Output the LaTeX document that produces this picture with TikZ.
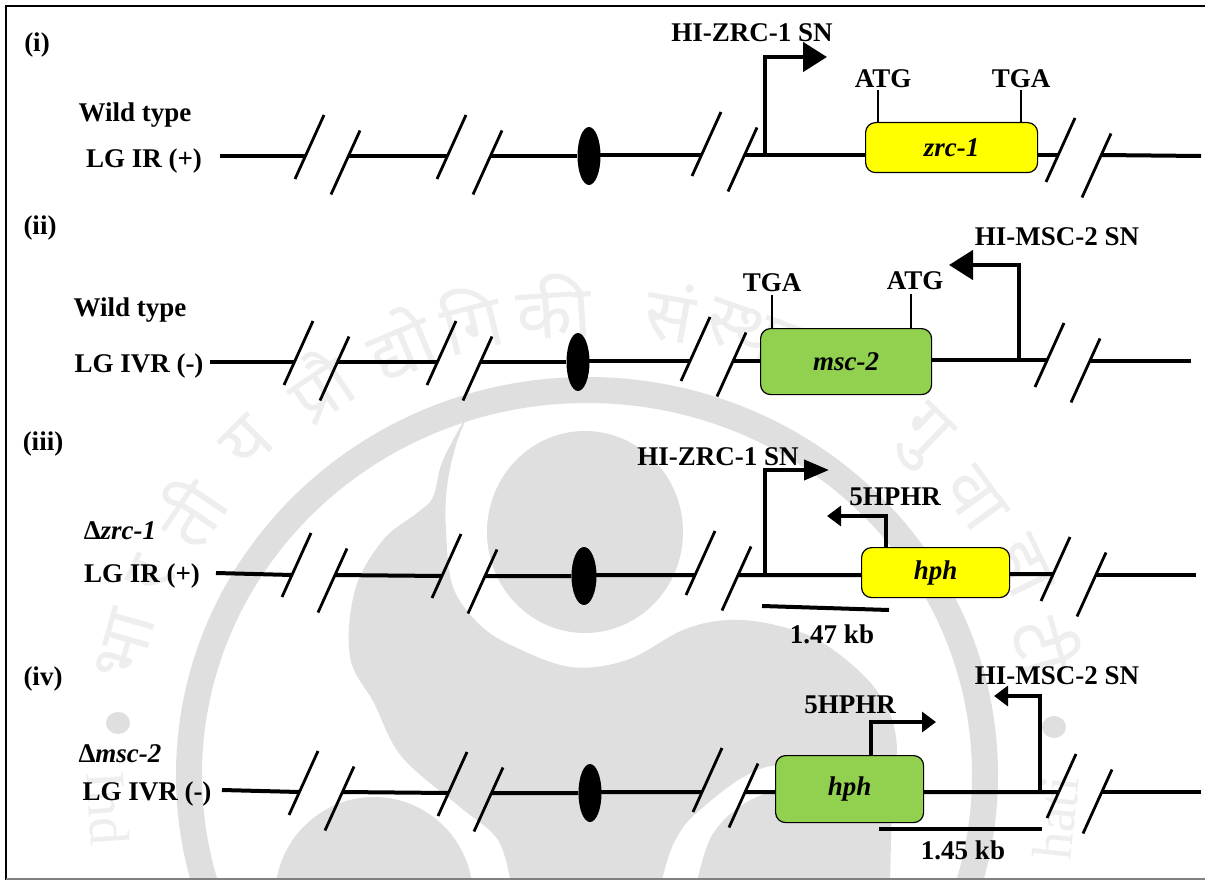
\documentclass[tikz,border=0pt]{standalone}
\usepackage{fontspec}
\setmainfont{Liberation Serif}
\newfontfamily\wmfont[Script=Devanagari]{Noto Sans}
\usepackage{xcolor}
\usepackage{tikz}
\usetikzlibrary{arrows.meta,shapes.geometric}
\definecolor{wmgray}{HTML}{DFDFDF}
\definecolor{wmtext}{HTML}{EEEEEE}
\definecolor{genegreen}{HTML}{92D050}
\definecolor{geneyellow}{HTML}{FFFF00}
\newcommand{\trackbreak}[4]{%
 \coordinate (#1a) at ({#2+0.453*(#3-#4)},#4);
 \coordinate (#1b) at ({#2+36+0.453*(#3+15.5-#4)},#4);
 \draw[tick] (#2,#3) -- ++(29,-64);
 \draw[tick] ({#2+36},{#3+15.5}) -- ++(29,-64);
}
\begin{document}
\begin{tikzpicture}[
 x=1pt,y=-1pt,
 lab/.style={font=\bfseries\fontsize{27}{28}\selectfont,inner sep=0pt},
 track/.style={line width=4pt},
 tick/.style={line width=2.8pt},
 stem/.style={line width=2.8pt},
 bar/.style={line width=4pt},
 gene/.style={draw=black,line width=1.2pt,rounded corners=10pt,anchor=north west,inner sep=0pt,font=\bfseries\itshape\fontsize{27}{28}\selectfont},
 oval/.style={ellipse,fill=black,inner sep=0pt,minimum width=23pt,minimum height=58pt},
 bigtss/.style={line width=4.6pt,-{Triangle[length=24pt,width=29pt]}},
 smalltss/.style={line width=3.2pt,-{Triangle[length=14pt,width=20pt]}},
 wmsyl/.style={font=\wmfont\fontsize{72}{72}\selectfont,text=wmtext,inner sep=0pt},
]
\useasboundingbox (0,0) rectangle (1205,880);
\fill[white] (0,0) rectangle (1205,880);
\begin{scope}
\clip (0,0) rectangle (1205,880);
\fill[wmgray,even odd rule] (587,775) ellipse [x radius=411,y radius=398] (587,775) ellipse [x radius=385,y radius=372];
\fill[wmgray] (585,532) ellipse [x radius=98,y radius=101];
\fill[wmgray] (374,897) ellipse [x radius=99,y radius=100];
\fill[wmgray] plot[smooth,tension=.6] coordinates {(470,410) (456,445) (447,487) (446,530) (453,587) (480,625) (515,647) (571,667) (627,660) (683,630) (728,620) (775,625) (823,643) (874,687) (896,737) (892,810) (890,885)}
 -- plot[smooth,tension=.6] coordinates {(511,885) (498,840) (460,807) (402,757) (374,703) (350,657) (355,590) (383,540) (417,513) (433,497) (443,460) (470,410)} -- cycle;
\fill[white] plot[smooth,tension=.6] coordinates {(661,885) (674,843) (700,810) (763,768) (840,765)}
 -- plot[smooth,tension=.6] coordinates {(840,765) (790,785) (745,803) (712,835) (696,885)} -- cycle;
\fill[wmgray] (118,723) ellipse [x radius=12,y radius=11];
\fill[wmgray] (1054,727) ellipse [x radius=12,y radius=11];
\foreach \syl/\ang in {भा/164,र/155,ती/146,य/135,प्रौ/124,द्यो/113,गि/104,की/94,सं/80,स्था/70,न/60,गु/46,वा/36,हा/26,टी/16}
 \node[wmsyl,rotate=\ang-90] (wm\ang) at ({587+480*cos(\ang)},{775-470*sin(\ang)}) {\syl};
\node[wmsyl,font=\fontsize{56}{56}\selectfont,rotate=-86] (wmleft) at (108,808) {Ind};
\node[wmsyl,font=\fontsize{56}{56}\selectfont,rotate=84] (wmright) at (1056,818) {hati};
\end{scope}
\draw[line width=2pt] (1205,6) -- (6,6) -- (6,880);
\draw[line width=2pt,gray] (6,879) -- (1205,879);

% (i)
\node[lab] (num1) at (37,45) {(i)};
\node[lab] (type1) at (135,115) {Wild type};
\node[lab] (lg1) at (144,161) {LG IR (+)};
\coordinate (s1) at (220,156);
\coordinate (e1) at (1201,156);
\trackbreak{p1}{295}{179}{156}
\trackbreak{q1}{437}{179}{156}
\trackbreak{r1}{692}{176}{155}
\trackbreak{t1}{1046}{182}{155}
\node[oval] (cen1) at (589,156) {};
\node[gene,fill=geneyellow,minimum width=172pt,minimum height=50pt] (zrc) at (865,122) {zrc-1};
\draw[track] (s1) -- (p1a) (p1b) -- (q1a) (q1b) -- (cen1) (cen1 |- r1a) -- (r1a) (r1b) -- (r1b -| zrc.west) (zrc.east |- t1a) -- (t1a);
\draw[track] (t1b) -- (e1);
\coordinate (tss1) at (765,154);
\coordinate (tip1) at (827,57);
\draw[bigtss] (tss1) |- (tip1);
\node[lab] (sn1) at (752,33) {HI-ZRC-1 SN};
\node[lab] (atg1) at (883,79) {ATG};
\node[lab] (tga1) at (1021,79) {TGA};
\draw[stem] (878,90) -- (878 ,122);
\draw[stem] (1021,90) -- (1021,122);

% (ii)
\node[lab] (num2) at (40,228) {(ii)};
\node[lab] (type2) at (130,310) {Wild type};
\node[lab] (lg2) at (139,366) {LG IVR (-)};
\coordinate (s2) at (210,362);
\coordinate (e2) at (1191,361);
\trackbreak{p2}{284}{385}{362}
\trackbreak{q2}{427}{385}{362}
\trackbreak{r2}{681}{381}{361}
\trackbreak{t2}{1035}{387}{360}
\node[oval] (cen2) at (578,362) {};
\node[gene,fill=genegreen,minimum width=171pt,minimum height=66pt] (msc) at (760,328) {msc-2};
\draw[track] (s2) -- (p2a) (p2b) -- (q2a) (q2b) -- (cen2) (cen2 |- r2a) -- (r2a) (r2b) -- (r2b -| msc.west) (msc.east |- t2a) -- (t2a);
\draw[track] (t2b |- e2) -- (e2);
\coordinate (tss2) at (1019,360);
\coordinate (tip2) at (949,265);
\draw[bigtss] (tss2) |- (tip2);
\node[lab] (sn2) at (1057,237) {HI-MSC-2 SN};
\node[lab] (tga2) at (772,283) {TGA};
\node[lab] (atg2) at (915,281) {ATG};
\draw[stem] (772,295) -- (772,328);
\draw[stem] (911,294) -- (911,328);

% (iii)
\node[lab] (num3) at (43,444) {(iii)};
\node[lab] (type3) at (120,531) {Δ\textit{zrc-1}};
\node[lab] (lg3) at (142,576) {LG IR (+)};
\coordinate (s3) at (216,573);
\coordinate (e3) at (1196,575);
\trackbreak{p3}{282}{597}{575}
\trackbreak{q3}{432}{598}{576}
\trackbreak{r3}{686}{595}{575}
\trackbreak{t3}{1041}{601}{574}
\node[oval,minimum width=25pt] (cen3) at (584,576) {};
\node[gene,fill=geneyellow,minimum width=148pt,minimum height=50pt] (hph1) at (861,547) {hph};
\draw[track] (s3) -- (p3a) (p3b) -- (q3a) (q3b) -- (cen3) (cen3 |- r3a) -- (r3a) (r3b) -- (r3b -| hph1.west) (hph1.east |- t3a) -- (t3a);
\draw[track] (t3b |- e3) -- (e3);
\coordinate (tss3) at (765,573);
\coordinate (tip3) at (829,470);
\draw[bigtss,line width=4pt,-{Triangle[length=25pt,width=20pt]}] (tss3) |- (tip3);
\node[lab] (sn3) at (718,457) {HI-ZRC-1 SN};
\coordinate (pr3) at (886,547);
\coordinate (ptip3) at (827,516);
\draw[smalltss] (pr3) |- (ptip3);
\node[lab] (ph3) at (895,497) {5HPHR};
\coordinate (bs3) at (762,606);
\coordinate (be3) at (889,610);
\draw[bar] (bs3) -- (be3);
\node[lab] (kb3) at (832,634) {1.47 kb};

% (iv)
\node[lab] (num4) at (43,679) {(iv)};
\node[lab] (type4) at (120,754) {Δ\textit{msc-2}};
\node[lab] (lg4) at (147,794) {LG IVR (-)};
\coordinate (s4) at (222,790);
\coordinate (e4) at (1201,792);
\trackbreak{p4}{289}{815}{792}
\trackbreak{q4}{438}{816}{793}
\trackbreak{r4}{693}{812}{792}
\trackbreak{t4}{1047}{818}{792}
\node[oval] (cen4) at (590,793) {};
\node[gene,fill=genegreen,minimum width=148pt,minimum height=67pt] (hph2) at (775,755) {hph};
\draw[track] (s4) -- (p4a) (p4b) -- (q4a) (q4b) -- (cen4) (cen4 |- r4a) -- (r4a) (r4b) -- (r4b -| hph2.west) (hph2.east |- t4a) -- (t4a);
\draw[track] (t4b) -- (e4);
\coordinate (pr4) at (871,755);
\coordinate (ptip4) at (936,722);
\draw[smalltss] (pr4) |- (ptip4);
\node[lab] (ph4) at (850,705) {5HPHR};
\coordinate (tss4) at (1040,791);
\coordinate (tip4) at (994,696);
\draw[smalltss] (tss4) |- (tip4);
\node[lab] (sn4) at (1057,676) {HI-MSC-2 SN};
\coordinate (bs4) at (879,829);
\coordinate (be4) at (1042,829);
\draw[bar] (bs4) -- (be4);
\node[lab] (kb4) at (963,850) {1.45 kb};
\end{tikzpicture}
\end{document}
